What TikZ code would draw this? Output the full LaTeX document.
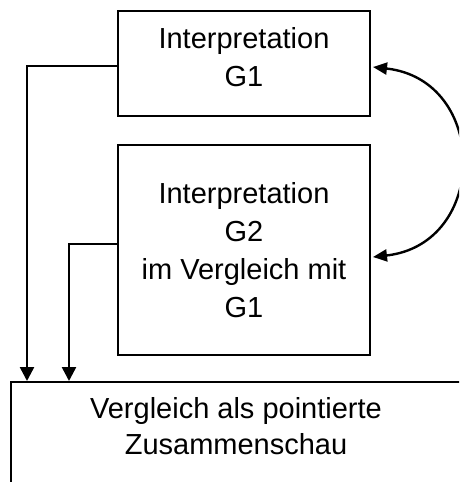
\documentclass[tikz,border=0pt]{standalone}
\usepackage{fontspec}
\setmainfont{Liberation Sans}
\usetikzlibrary{arrows.meta}
\begin{document}
\begin{tikzpicture}[x=1pt,y=-1pt,
  box/.style={draw, line width=2pt, inner sep=0pt, rectangle},
  txt/.style={align=center, inner sep=0pt, anchor=north, font=\fontsize{29}{38}\selectfont},
  conn/.style={line width=2.5pt, -{Triangle[length=14pt,width=14pt]}},
  bicurve/.style={line width=2.4pt, {Triangle[length=14pt,width=12pt]}-{Triangle[length=14pt,width=12pt]}}]
\useasboundingbox (0,0) rectangle (459,482);
\clip (0,0) rectangle (459,482);
% boxes
\node[box, minimum width=252pt, minimum height=105pt] (g1) at (244,63.5) {};
\node[box, minimum width=252pt, minimum height=210pt] (g2) at (244,250) {};
\node[box, minimum width=450pt, minimum height=178pt] (vgl) at (236,471) {};
% texts
\node[txt] (g1t) at (244,27) {Interpretation\\G1};
\node[txt] (g2t) at (244,182) {Interpretation\\G2\\im Vergleich mit\\G1};
\node[txt, font=\fontsize{29}{36}\selectfont] (vglt) at (236,397) {Vergleich als pointierte\\Zusammenschau};
% connectors
\coordinate (e1) at ([xshift=17pt]vgl.north west);
\coordinate (e2) at ([xshift=59pt]vgl.north west);
\draw[conn] ([yshift=-2.5pt]g1.west) -| (e1);
\draw[conn] ([yshift=6pt]g2.west) -| (e2);
\draw[bicurve] ([xshift=2pt,yshift=-3.5pt]g1.east) .. controls +(116,13) and +(116,-13) .. ([xshift=2pt,yshift=-7pt]g2.east);
\end{tikzpicture}
\end{document}
